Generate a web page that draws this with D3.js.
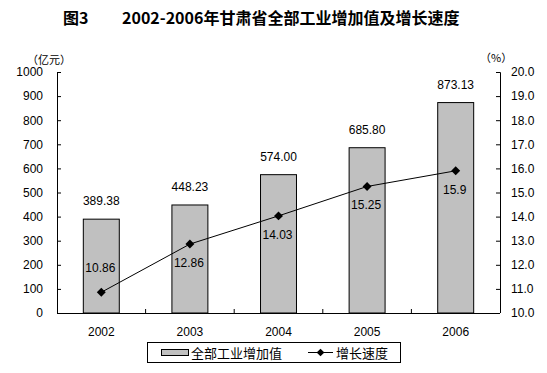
<!DOCTYPE html>
<html>
<head>
<meta charset="utf-8">
<script src="https://cdn.jsdelivr.net/npm/d3@7"></script>
<style>
  body { margin: 0; background: #fff; }
  svg { display: block; }
  text { font-family: "Liberation Sans", Arial, sans-serif; }
  .cjk { font-family: "Noto Sans CJK SC", sans-serif; }
</style>
</head>
<body>
<div id="chart"></div>
<script>
(function (d3) {
	'use strict';

	const years = ["2002", "2003", "2004", "2005", "2006"];
	const addedValue = [389.38, 448.23, 574.00, 685.80, 873.13];
	const growthRate = [10.86, 12.86, 14.03, 15.25, 15.9];
	const leftTicks = [0, 100, 200, 300, 400, 500, 600, 700, 800, 900, 1000];
	const rightTicks = [10, 11, 12, 13, 14, 15, 16, 17, 18, 19, 20];

	const width = 547, height = 373;
	const margin = { top: 72, right: 47, bottom: 60, left: 57 };
	const innerWidth = width - margin.left - margin.right;
	const innerHeight = height - margin.top - margin.bottom;

	const svg = d3.select("#chart").append("svg")
		.attr("width", width).attr("height", height);

	// title
	svg.append("text").attr("class", "cjk")
		.attr("x", 63).attr("y", 24)
		.attr("font-size", 16).attr("font-weight", "bold")
		.text("图3");
	svg.append("text").attr("class", "cjk")
		.attr("x", 122).attr("y", 24)
		.attr("font-size", 16).attr("font-weight", "bold")
		.text("2002-2006年甘肃省全部工业增加值及增长速度");

	const g = svg.append("g")
		.attr("transform", `translate(${margin.left},${margin.top})`);

	const x = d3.scaleBand().domain(years).range([0, innerWidth]).paddingInner(0.594).paddingOuter(0.297);
	const xCenter = d => x(d) + x.bandwidth() / 2;
	const yL = d3.scaleLinear().domain([0, 1000]).range([innerHeight, 0]);
	const yR = d3.scaleLinear().domain([10, 20]).range([innerHeight, 0]);

	// bars
	g.selectAll("rect.bar").data(years).enter().append("rect")
		.attr("class", "bar")
		.attr("x", d => x(d))
		.attr("width", x.bandwidth())
		.attr("y", (d, i) => yL(addedValue[i]))
		.attr("height", (d, i) => innerHeight - yL(addedValue[i]))
		.attr("fill", "#c0c0c0")
		.attr("stroke", "#000")
		.attr("stroke-width", 1);

	g.selectAll("text.bl").data(years).enter().append("text")
		.attr("class", "bl")
		.attr("x", d => xCenter(d))
		.attr("y", (d, i) => yL(addedValue[i]) - 14)
		.attr("text-anchor", "middle")
		.attr("font-size", 12)
		.text((d, i) => addedValue[i].toFixed(2));

	// axes
	const left = d3.axisLeft(yL).tickValues(leftTicks).tickSize(-4).tickPadding(14).tickFormat(d3.format("d"));
	g.append("g").call(left)
		.call(a => a.selectAll("text").attr("font-size", 12).attr("font-family", "Liberation Sans, Arial"))
		.call(a => a.select(".domain").attr("d", `M4,0.5H0.5V${innerHeight}`));

	const right = d3.axisRight(yR).tickValues(rightTicks).tickSize(-4).tickPadding(11)
		.tickFormat(d3.format(".1f"));
	g.append("g").attr("transform", `translate(${innerWidth},0)`).call(right)
		.call(a => a.selectAll("text").attr("font-size", 12).attr("font-family", "Liberation Sans, Arial"))
		.call(a => a.select(".domain").attr("d", `M-4,0.5H0.5V${innerHeight}`));

	const bottom = d3.axisBottom(x).tickSize(0).tickPadding(14);
	const bAxis = g.append("g").attr("transform", `translate(0,${innerHeight})`).call(bottom);
	bAxis.selectAll("text").attr("font-size", 12).attr("font-family", "Liberation Sans, Arial");
	bAxis.select(".domain").attr("d", `M0,0.5H${innerWidth}`);
	const step = x.step();
	bAxis.selectAll("line.sep").data(years.slice(1)).enter().append("line")
		.attr("class", "sep")
		.attr("x1", d => xCenter(d) - step / 2).attr("x2", d => xCenter(d) - step / 2)
		.attr("y1", 0).attr("y2", -4).attr("stroke", "#000");

	// unit labels
	svg.append("text").attr("class", "cjk").attr("x", 27).attr("y", 64).attr("font-size", 11).text("（亿元）");
	svg.append("text").attr("class", "cjk").attr("x", 480).attr("y", 62).attr("font-size", 11).text("（%）");

	// line
	const line = d3.line().x(d => xCenter(d)).y((d, i) => yR(growthRate[i]));
	g.append("path").datum(years).attr("d", line)
		.attr("fill", "none").attr("stroke", "#000").attr("stroke-width", 1);

	g.selectAll("path.pt").data(years).enter().append("path")
		.attr("class", "pt")
		.attr("transform", (d, i) => `translate(${xCenter(d)},${yR(growthRate[i])}) rotate(45)`)
		.attr("d", d3.symbol().type(d3.symbolSquare).size(40))
		.attr("fill", "#000");

	g.selectAll("text.ll").data(years).enter().append("text")
		.attr("class", "ll")
		.attr("x", d => xCenter(d) - 1)
		.attr("y", (d, i) => yR(growthRate[i]) + (i === 0 ? -20 : 23))
		.attr("text-anchor", "middle")
		.attr("font-size", 12)
		.text((d, i) => String(growthRate[i]));

	// legend
	const lg = svg.append("g");
	lg.append("rect").attr("x", 147.5).attr("y", 342.5).attr("width", 253).attr("height", 20)
		.attr("fill", "#fff").attr("stroke", "#000");
	lg.append("rect").attr("x", 161.5).attr("y", 349.5).attr("width", 27).attr("height", 6)
		.attr("fill", "#c0c0c0").attr("stroke", "#000");
	lg.append("text").attr("class", "cjk").attr("x", 191).attr("y", 357.5).attr("font-size", 13).text("全部工业增加值");
	lg.append("line").attr("x1", 308).attr("x2", 333).attr("y1", 352.5).attr("y2", 352.5).attr("stroke", "#000");
	lg.append("path").attr("transform", "translate(320.5,352.5) rotate(45)")
		.attr("d", d3.symbol().type(d3.symbolSquare).size(30)).attr("fill", "#000");
	lg.append("text").attr("class", "cjk").attr("x", 336).attr("y", 357.5).attr("font-size", 13).text("增长速度");
}(d3));
</script>
</body>
</html>
